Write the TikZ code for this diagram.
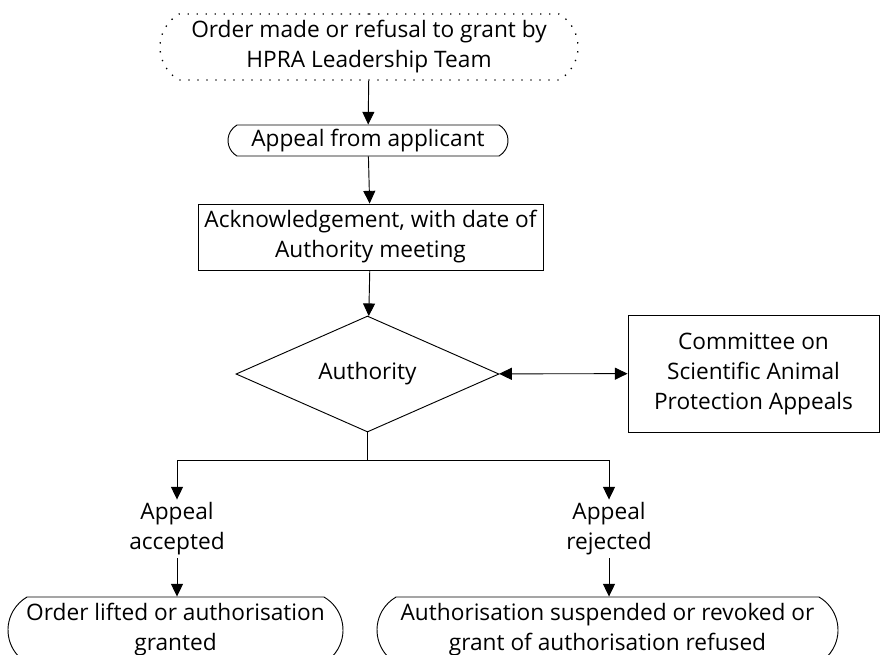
\documentclass[tikz,border=0pt]{standalone}
\usepackage{fontspec}
\setmainfont{Open Sans}
\usetikzlibrary{arrows.meta,shapes.geometric,shapes.misc}

\begin{document}
\begin{tikzpicture}[x=0.75pt, y=-0.75pt, line width=0.7pt,
    font=\fontsize{17}{22.5}\selectfont,
    >={Triangle[length=9.5pt, width=9pt]},
    pill/.style={draw, rounded rectangle, rounded rectangle arc length=120, align=center, inner sep=0pt},
    box/.style={draw, rectangle, align=center, inner sep=0pt},
    choice/.style={draw, diamond, inner sep=0pt},
    outcome/.style={align=center, inner sep=2pt}]
            \useasboundingbox (0,0) rectangle (880,654);
            \node[pill, line width=1pt, dash pattern=on 1pt off 5.75pt, minimum width=313.5pt, minimum height=49.5pt] (order) at (369,47) {Order made or refusal to grant by\\HPRA Leadership Team};
            \node[pill, minimum width=210pt, minimum height=23.25pt] (appeal) at (368,140.5) {Appeal from applicant};
            \node[box, minimum width=258.75pt, minimum height=49.5pt] (ack) at (370.5,237) {Acknowledgement, with date of\\Authority meeting};
            \node[choice, minimum width=197.25pt, minimum height=87pt, aspect=2.27] (authority) at (367.5,374) {Authority};
            \node[box, minimum width=188.25pt, minimum height=87.75pt] (committee) at (753.5,373.5) {Committee on\\Scientific Animal\\Protection Appeals};
            \coordinate (split) at (367.5,460);
            \node[outcome] (accepted) at (177,529) {Appeal\\accepted};
            \node[outcome] (rejected) at (609,529) {Appeal\\rejected};
            \node[pill, minimum width=251.25pt, minimum height=49.5pt] (lifted) at (175.5,630) {Order lifted or authorisation\\granted};
            \node[pill, minimum width=345.75pt, minimum height=49.5pt] (refused) at (607.5,630) {Authorisation suspended or revoked or\\grant of authorisation refused};
            \draw[->] (order) -- (appeal);
            \draw[->] (appeal) -- (ack);
            \draw[->] (ack) -- (authority);
            \draw[<->] (authority) -- (committee);
            \draw (authority) -- (split);
            \draw[->] (split) -| (accepted);
            \draw[->] (split) -| (rejected);
            \draw[->] (accepted) -- (lifted.north -| accepted);
            \draw[->] (rejected) -- (refused.north -| rejected);
        \end{tikzpicture}
\end{document}
